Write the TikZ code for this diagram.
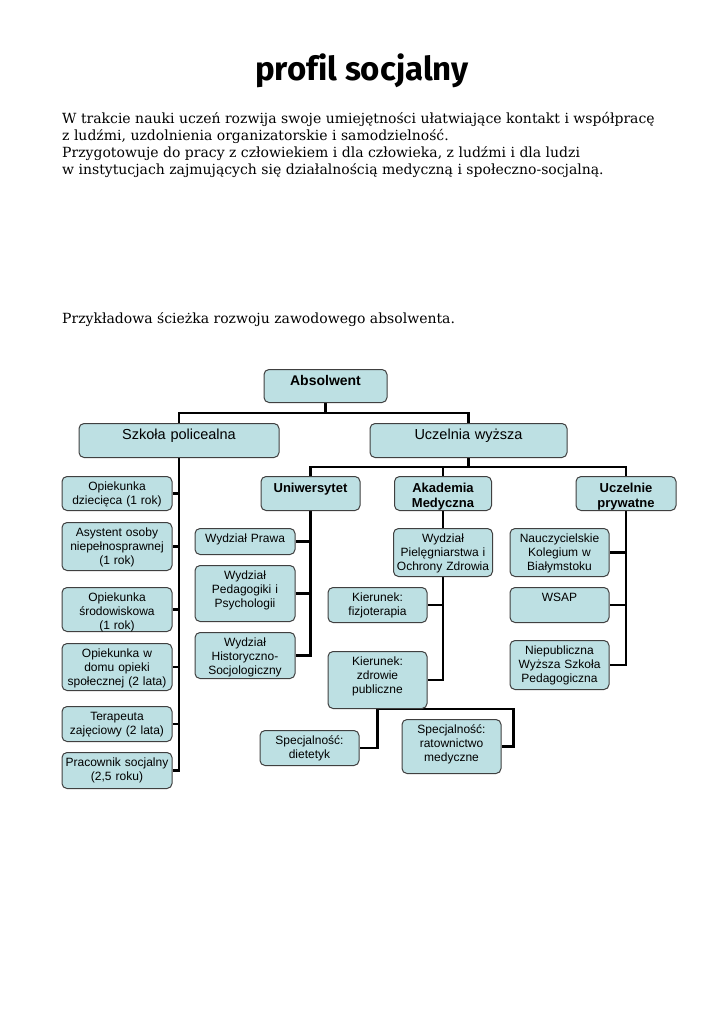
\documentclass[tikz,border=0pt]{standalone}
\usepackage{fontspec}
\setmainfont{DejaVu Serif}
\setsansfont{Liberation Sans}
\newfontfamily\titlefont[Ligatures=NoCommon]{Fira Sans}
\usetikzlibrary{positioning,backgrounds}
\definecolor{boxfill}{RGB}{189,224,227}
\definecolor{boxline}{RGB}{64,64,64}
\tikzset{
  box/.style n args={3}{draw=boxline, line width=1pt, fill=boxfill, rounded corners=5pt,
    anchor=north, inner xsep=2pt, inner ysep=3pt, align=center,
    text width={(#1-4)*1pt}, text height=#3pt, text depth={(#2-6-#3)*1pt}},
  leaf/.style 2 args={box={#1}{#2}{10.5}, font=\sffamily\fontsize{12}{14}\selectfont},
  head/.style 2 args={box={#1}{#2}{12.5}, font=\sffamily\bfseries\fontsize{13}{15}\selectfont},
  mid/.style 2 args={box={#1}{#2}{12.5}, font=\sffamily\fontsize{14.5}{17}\selectfont},
  conn/.style={line width=2.8pt}
}
\begin{document}
\begin{tikzpicture}[x=1pt, y=-1pt]
  \useasboundingbox (0,0) rectangle (724,1024);
  % Title and text
  \node[anchor=base, inner sep=0] (title) at (362,81) {\titlefont\bfseries\fontsize{33}{35}\selectfont profil socjalny};
  \node[anchor=base west, inner sep=0, align=left, font=\fontsize{14}{17}\selectfont] (intro) at (62,175)
    {W trakcie nauki uczeń rozwija swoje umiejętności ułatwiające kontakt i współpracę\\
     z ludźmi, uzdolnienia organizatorskie i samodzielność.\\
     Przygotowuje do pracy z człowiekiem i dla człowieka, z ludźmi i dla ludzi\\
     w instytucjach zajmujących się działalnością medyczną i społeczno-socjalną.};
  \node[anchor=base west, inner sep=0, font=\fontsize{14}{17}\selectfont] (path) at (62,323)
    {Przykładowa ścieżka rozwoju zawodowego absolwenta.};
  % Top levels
  \node[head={123}{33}, font=\sffamily\bfseries\fontsize{14}{16}\selectfont] (abs) at (325.5,369) {Absolwent};
  \node[mid={200}{34}] (szk) at (179,423) {Szkoła policealna};
  \node[mid={197}{34}] (ucz) at (468.5,423) {Uczelnia wyższa};
  \node[head={99}{34}] (uni) at (310.5,476) {Uniwersytet};
  \node[head={97}{34}] (akm) at (443,476) {Akademia\\Medyczna};
  \node[head={100}{34}] (pryw) at (626,476) {Uczelnie\\prywatne};
  % Szkola policealna
  \node[leaf={110}{34}] (l1) at (117,476) {Opiekunka\\dziecięca (1 rok)};
  \node[leaf={110}{48}] (l2) at (117,522) {Asystent osoby\\niepełnosprawnej\\(1 rok)};
  \node[leaf={110}{44}] (l3) at (117,587) {Opiekunka\\środowiskowa\\(1 rok)};
  \node[leaf={110}{47}] (l4) at (117,643) {Opiekunka w\\domu opieki\\społecznej (2 lata)};
  \node[leaf={110}{35}] (l5) at (117,706) {Terapeuta\\zajęciowy (2 lata)};
  \node[leaf={110}{36}] (l6) at (117,752) {Pracownik socjalny\\(2,5 roku)};
  % Uniwersytet
  \node[leaf={100}{26}] (u1) at (245,528) {Wydział Prawa};
  \node[leaf={100}{56}] (u2) at (245,565) {Wydział\\Pedagogiki i\\Psychologii};
  \node[leaf={100}{46}] (u3) at (245,632) {Wydział\\Historyczno-\\Socjologiczny};
  % Akademia Medyczna
  \node[leaf={99}{48}] (a1) at (443,528) {Wydział\\Pielęgniarstwa i\\Ochrony Zdrowia};
  \node[leaf={99}{35}] (a2) at (377.5,587) {Kierunek:\\fizjoterapia};
  \node[leaf={99}{57}] (a3) at (377.5,651) {Kierunek:\\zdrowie\\publiczne};
  \node[leaf={99}{35}] (a4) at (309.5,730) {Specjalność:\\dietetyk};
  \node[leaf={99}{54}] (a5) at (451.5,719) {Specjalność:\\ratownictwo\\medyczne};
  % Uczelnie prywatne
  \node[leaf={99}{48}] (p1) at (559.5,528) {Nauczycielskie\\Kolegium w\\Białymstoku};
  \node[leaf={99}{35}] (p2) at (559.5,587) {WSAP};
  \node[leaf={99}{49}] (p3) at (559.5,640) {Niepubliczna\\Wyższa Szkoła\\Pedagogiczna};
  % Connectors
  \begin{pgfonlayer}{background}
    \draw[conn] (abs.south) -- ++(0,10) -| (szk.north);
    \draw[conn] (abs.south) -- ++(0,10) -| (ucz.north);
    \foreach \n in {uni,akm,pryw}
      \draw[conn] (ucz.south) -- ++(0,9) -| (\n.north);
    \foreach \n in {l1,l2,l3,l4,l5,l6}
      \draw[conn] (szk.south) |- (\n.east);
    \foreach \n in {u1,u2,u3}
      \draw[conn] (uni.south) |- (\n.east);
    \draw[conn] (akm.south) -- (a1.north);
    \foreach \n in {a2,a3}
      \draw[conn] (a1.south) |- (\n.east);
    \draw[conn] (a3.south) |- (a4.east);
    \draw[conn] (a3.south) -| ([xshift=12pt]a5.east) -- (a5.east);
    \foreach \n in {p1,p2,p3}
      \draw[conn] (pryw.south) |- (\n.east);
  \end{pgfonlayer}
\end{tikzpicture}
\end{document}
